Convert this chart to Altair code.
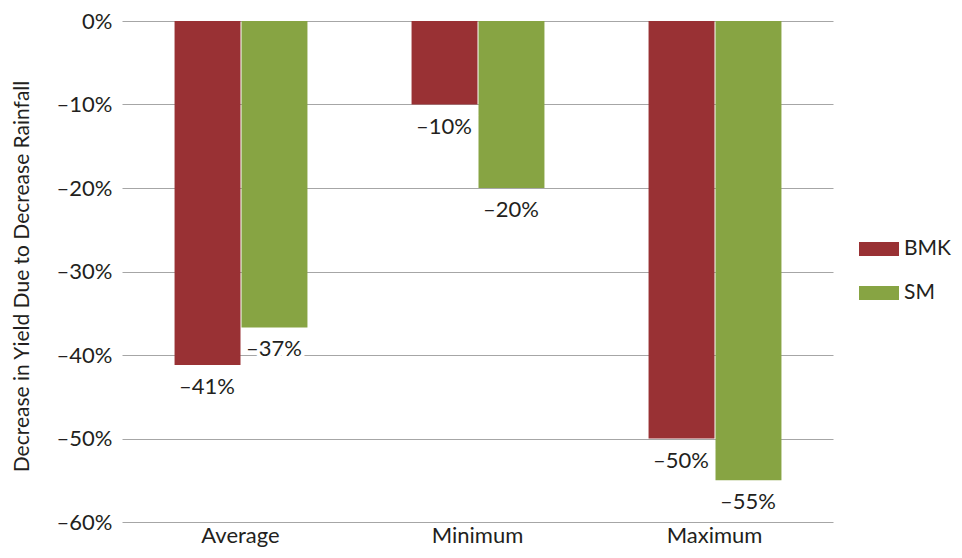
import altair as alt
import pandas as pd

categories = ["Average", "Average", "Minimum", "Minimum", "Maximum", "Maximum"]
series = ["BMK", "SM", "BMK", "SM", "BMK", "SM"]
values = [-0.412, -0.367, -0.10, -0.20, -0.50, -0.55]
labels = ["–41%", "–37%", "–10%", "–20%", "–50%", "–55%"]

df = pd.DataFrame({"cat": categories, "series": series, "value": values, "label": labels})

FONT = "Lato"
TXT = "#231F20"
FS = 22
cat_order = ["Average", "Minimum", "Maximum"]

x = alt.X("cat:N", sort=cat_order, title=None,
          scale=alt.Scale(paddingInner=0.435, paddingOuter=0.2175),
          axis=alt.Axis(labelAngle=0, labelFontSize=FS, labelFont=FONT, labelColor=TXT,
                        ticks=False, domain=False, labelPadding=3, labelBaseline="top"))
xo = alt.XOffset("series:N", sort=["BMK", "SM"])

y = alt.Y("value:Q", title="Decrease in Yield Due to Decrease Rainfall",
          scale=alt.Scale(domain=[-0.6, 0], nice=False),
          axis=alt.Axis(values=[0, -0.1, -0.2, -0.3, -0.4, -0.5, -0.6],
                        labelExpr="datum.value == 0 ? '0%' : '–' + format(-datum.value, '.0%')",
                        labelFontSize=FS, labelFont=FONT, labelColor=TXT, labelPadding=10,
                        titleFontSize=21, titleFont=FONT, titleColor=TXT, titleFontWeight="normal",
                        titleX=-90, titleY=255, titleBaseline="bottom", ticks=False, domain=False,
                        grid=True, gridColor="#A6A6A6", gridWidth=1))

color = alt.Color("series:N", sort=["BMK", "SM"],
                  scale=alt.Scale(domain=["BMK", "SM"], range=["#993134", "#87A443"]),
                  legend=alt.Legend(title=None, orient="none", legendX=737, legendY=208,
                                    symbolType="M-1,-0.35L1,-0.35L1,0.35L-1,0.35Z",
                                    symbolSize=1600, symbolStrokeWidth=0, symbolOpacity=1,
                                    labelFontSize=21, labelFont=FONT, labelColor=TXT,
                                    rowPadding=14, labelOffset=5))

base = alt.Chart(df)

bars = base.mark_bar(width=alt.RelativeBandSize(0.985)).encode(x=x, xOffset=xo, y=y, color=color)

halo = base.mark_text(dy=22, fontSize=FS, font=FONT, stroke="white", strokeWidth=8,
                      fill="white", baseline="middle").encode(
    x=x, xOffset=xo, y=y, text="label:N")
txt = base.mark_text(dy=22, fontSize=FS, font=FONT, color=TXT, baseline="middle").encode(
    x=x, xOffset=xo, y=y, text="label:N")

chart = alt.layer(bars, halo, txt).properties(
    width=711, height=501,
    background="white",
    autosize=alt.AutoSizeParams(type="none"),
    padding={"left": 114, "top": 13, "right": 121, "bottom": 28},
).configure_view(stroke=None)

chart.save("out.html", embed_options={"renderer": "svg", "actions": False})
